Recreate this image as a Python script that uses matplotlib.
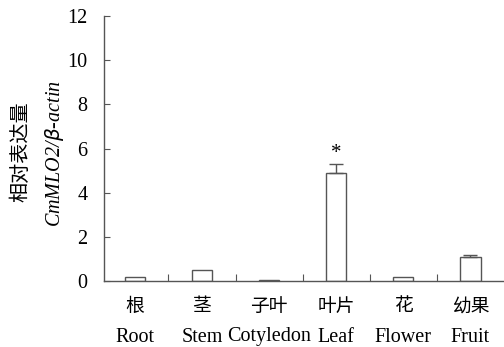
import numpy as np
import matplotlib
matplotlib.use("Agg")
import matplotlib.pyplot as plt
from matplotlib.transforms import blended_transform_factory

## DATA
labels_cn = ["根", "茎", "子叶", "叶片", "花", "幼果"]
labels_en = ["Root", "Stem", "Cotyledon", "Leaf", "Flower", "Fruit"]
expression = [0.18, 0.54, 0.06, 4.89, 0.18, 1.09]
err_upper = [0.0, 0.0, 0.0, 0.42, 0.0, 0.09]
y_ticks = [0, 2, 4, 6, 8, 10, 12]

serif = ["Liberation Serif", "DejaVu Serif"]
cjk = ["Noto Sans CJK SC", "DejaVu Sans"]
edge = "#555555"

## FIGURE
fig = plt.figure(figsize=(5.04, 3.47), dpi=100)
ax = fig.add_axes([0.2063, 0.1888, 0.7937, 0.766])

x = np.arange(len(expression))
ax.bar(x, expression, width=0.3, color="white", edgecolor=edge, linewidth=1.0)
has_err = [i for i, e in enumerate(err_upper) if e > 0]
ax.errorbar(x[has_err], np.array(expression)[has_err],
            yerr=[np.zeros(len(has_err)), np.array(err_upper)[has_err]],
            fmt="none", ecolor=edge, elinewidth=1.0, capsize=5, capthick=1.0)

# significance mark
ax.text(3, expression[3] + err_upper[3] + 0.05, "*", ha="center", va="bottom",
        fontsize=15, family=serif)

ax.set_xlim(-0.46, 5.5)
ax.set_ylim(0, 12)
ax.set_yticks(y_ticks)
ax.set_yticklabels([str(t) for t in y_ticks], family=serif, fontsize=14.5)
ax.tick_params(axis="y", direction="in", length=4, pad=12, color=edge)

# x ticks at category boundaries, pointing up
ax.set_xticks(x[:-1] + 0.5)
ax.set_xticklabels([])
ax.tick_params(axis="x", direction="in", length=5, color=edge)

for s in ["top", "right"]:
    ax.spines[s].set_visible(False)
for s in ["left", "bottom"]:
    ax.spines[s].set_color(edge)
    ax.spines[s].set_linewidth(1.0)

## CATEGORY LABELS
trans = blended_transform_factory(ax.transData, fig.transFigure)
for i in range(len(labels_cn)):
    ax.text(i, 1 - 306 / 347, labels_cn[i], transform=trans, ha="center", va="center",
            fontsize=13.5, family=cjk)
    ax.text(i, 1 - 337 / 347, labels_en[i], transform=trans, ha="center", va="center",
            fontsize=14.5, family=serif)

## Y LABEL
fig.text(21 / 504, 1 - 152 / 347, "相对表达量", rotation=90, ha="center", va="center",
         fontsize=14.5, family=cjk)
fig.text(55 / 504, 1 - 153 / 347, r"CmMLO2/$\beta$-actin", rotation=90, ha="center",
         va="center", fontsize=14.5, family=serif, style="italic")

fig.savefig("out.png", dpi=100)
